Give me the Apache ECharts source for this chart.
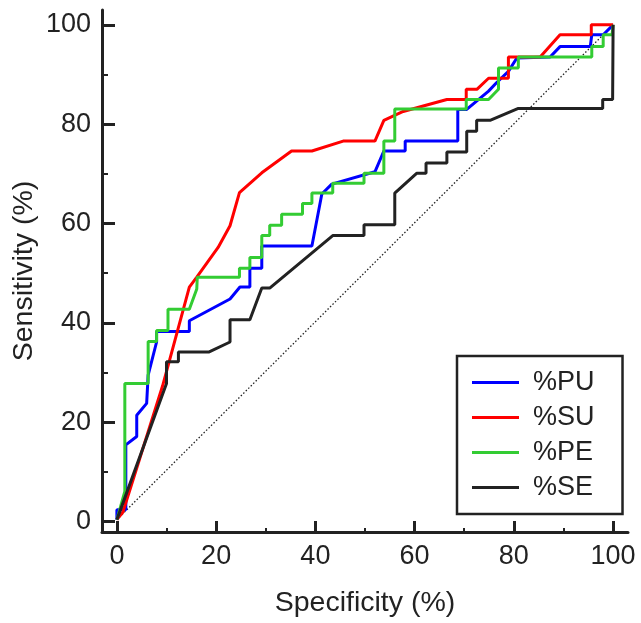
<!DOCTYPE html>
<html>
<head>
<meta charset="utf-8">
<script src="https://cdn.jsdelivr.net/npm/echarts@6/dist/echarts.min.js"></script>
<style>html,body{margin:0;padding:0;background:#fff}#c{width:641px;height:623px}</style>
</head>
<body>
<div id="c"></div>
<script>
// ---- data ----
var seriesNames = ['%PU', '%SU', '%PE', '%SE'];
var tickStep = 20;     // labelled ticks 0, 20, ..., 100
var tickMinor = 2;     // one unlabelled tick between labelled ones

var puPoints = [[0,0],[0,2.0],[1.8,2.0],[1.8,15.1],[4.0,16.8],[4.0,21.1],[6.0,23.5],[6.3,29.2],[8.0,35.9],[8.0,38.0],[14.6,38.0],[14.6,40.2],[22.8,44.6],[24.8,47.0],[26.8,47.0],[26.8,50.8],[29.2,50.8],[29.2,55.3],[39.3,55.3],[41.3,65.8],[43.3,67.8],[52.0,70.3],[53.8,74.5],[58.1,74.5],[58.1,76.5],[68.7,76.5],[68.7,82.9],[70.5,82.9],[74.9,86.6],[76.5,88.3],[78.9,90.6],[80.6,93.3],[87.3,93.5],[89.3,95.6],[95.4,95.6],[95.7,98.0],[98.0,98.0],[100,100]];

var suPoints = [[0,0],[1.2,1.5],[9.2,27.0],[14.6,47.0],[16.1,49.0],[20.4,55.0],[22.8,59.4],[24.7,66.1],[29.2,70.1],[35.2,74.5],[39.3,74.5],[45.6,76.5],[52.0,76.5],[53.8,80.7],[57.7,82.5],[66.5,84.9],[70.4,84.9],[70.4,87.0],[72.6,87.0],[74.9,89.2],[78.9,89.2],[78.9,93.5],[85.3,93.5],[89.3,98.0],[95.6,98.0],[95.6,100],[100,100]];

var pePoints = [[0,0],[1.6,5.7],[1.6,27.5],[6.3,27.5],[6.3,36.0],[8.0,36.0],[8.0,38.2],[10.3,38.2],[10.3,42.5],[14.6,42.5],[16.1,46.6],[16.2,49.0],[24.7,49.0],[24.7,50.8],[26.8,50.8],[26.8,53.0],[29.2,53.0],[29.2,57.4],[30.8,57.4],[30.8,59.5],[33.2,59.5],[33.2,61.7],[37.4,61.7],[37.4,63.9],[39.3,63.9],[39.3,66.0],[43.5,66.0],[43.5,68.0],[49.8,68.0],[49.8,70.0],[53.8,70.0],[53.8,76.5],[56.0,76.5],[56.0,83.0],[70.4,83.0],[70.4,84.9],[74.9,84.9],[76.9,87.0],[76.9,91.3],[80.9,91.3],[80.9,93.5],[95.7,93.5],[95.7,95.6],[98.0,95.6],[98.0,98.0],[99.8,98.0],[100,100]];

var sePoints = [[0,0],[10.0,27.5],[10.0,31.9],[12.4,31.9],[12.4,33.9],[18.6,33.9],[22.8,35.9],[22.8,40.4],[26.8,40.4],[29.2,46.8],[30.8,46.8],[43.5,57.4],[49.8,57.4],[49.8,59.6],[56.0,59.6],[56.0,66.0],[60.4,70.0],[62.3,70.0],[62.3,72.1],[66.5,72.1],[66.5,74.3],[70.5,74.3],[70.5,78.5],[72.5,78.5],[72.5,80.7],[75.2,80.7],[80.9,83.1],[97.9,83.1],[97.9,84.9],[99.9,84.9],[100,100]];

var diagonalPoints = [[0,0],[100,100]];

// ---- chart ----
var FONT = '"Liberation Sans", Arial, Helvetica, sans-serif';
var INK = '#222';
var colors = ['#0000ff', '#ff0000', '#33cc33', '#222222'];
var pointSets = [puPoints, suPoints, pePoints, sePoints];

// grid 0: data area; axis lines drawn slightly beyond 0..100, plus axis names
var G0 = {left: 102, right: 13, top: 10, bottom: 89};
var XMIN = -3, XMAX = 103, YMIN = -2.5, YMAX = 103;
var pxX = (641 - G0.left - G0.right) / (XMAX - XMIN);
var pxY = (623 - G0.top - G0.bottom) / (YMAX - YMIN);
// extents of 0..100 on the same scale
var X0L = G0.left + (0 - XMIN) * pxX, X0R = G0.right + (XMAX - 100) * pxX;
var Y0T = G0.top + (YMAX - 100) * pxY, Y0B = G0.bottom + (0 - YMIN) * pxY;

function mainAxis(dim) {
  return {
    type: 'value', gridIndex: 0,
    position: dim === 'x' ? 'bottom' : 'left',
    min: dim === 'x' ? XMIN : YMIN, max: dim === 'x' ? XMAX : YMAX,
    splitLine: {show: false},
    axisLine: {show: true, onZero: false, lineStyle: {color: INK, width: 3}},
    axisTick: {show: false},
    axisLabel: {show: false},
    name: dim === 'x' ? 'Specificity (%)' : 'Sensitivity (%)',
    nameLocation: 'middle',
    nameGap: dim === 'x' ? 57 : 63,
    nameTextStyle: {fontSize: 28.5, fontFamily: FONT, color: INK}
  };
}
// tick + label axes: exactly 0..100, their grid edge lies on the axis line
function tickAxis(dim, grid) {
  return {
    type: 'value', gridIndex: grid,
    position: dim === 'x' ? 'bottom' : 'left',
    min: 0, max: 100, interval: tickStep,
    splitLine: {show: false}, minorSplitLine: {show: false},
    axisLine: {show: false},
    axisLabel: {show: true, fontSize: 27, fontFamily: FONT, color: INK, margin: dim === 'x' ? 9 : 11},
    axisTick: {show: true, inside: true, length: 13, lineStyle: {color: INK, width: 3}},
    minorTick: {show: true, splitNumber: tickMinor, length: 6, lineStyle: {color: INK, width: 2}}
  };
}
function hiddenAxis(grid) {
  return {type: 'value', gridIndex: grid, show: false, min: 0, max: 100};
}

var series = [{
  name: 'ref', type: 'line', data: diagonalPoints, symbol: 'none', silent: true,
  lineStyle: {color: INK, width: 1.3, type: [1.5, 2]}, z: 1
}];
seriesNames.forEach(function (n, i) {
  series.push({
    name: n, type: 'line', data: pointSets[i], symbol: 'none', color: colors[i],
    lineStyle: {color: colors[i], width: 3}, z: 2 + i
  });
});

var chart = echarts.init(document.getElementById('c'), null, {renderer: 'canvas'});
chart.setOption({
  animation: false,
  backgroundColor: '#fff',
  grid: [
    {left: G0.left, right: G0.right, top: G0.top, bottom: G0.bottom, containLabel: false},
    {left: X0L, right: X0R, top: G0.top, bottom: G0.bottom, containLabel: false},
    {left: G0.left, right: G0.right, top: Y0T, bottom: Y0B, containLabel: false}
  ],
  xAxis: [mainAxis('x'), tickAxis('x', 1), hiddenAxis(2)],
  yAxis: [mainAxis('y'), hiddenAxis(1), tickAxis('y', 2)],
  legend: {
    data: seriesNames,
    orient: 'vertical', left: 457, top: 356,
    icon: 'rect', itemWidth: 47, itemHeight: 3, itemGap: 8,
    padding: [13, 28, 13, 15],
    borderColor: INK, borderWidth: 2.5, borderRadius: 0,
    textStyle: {fontSize: 27, fontFamily: FONT, color: INK, padding: [0, 0, 0, 9]}
  },
  series: series
});
</script>
</body>
</html>
